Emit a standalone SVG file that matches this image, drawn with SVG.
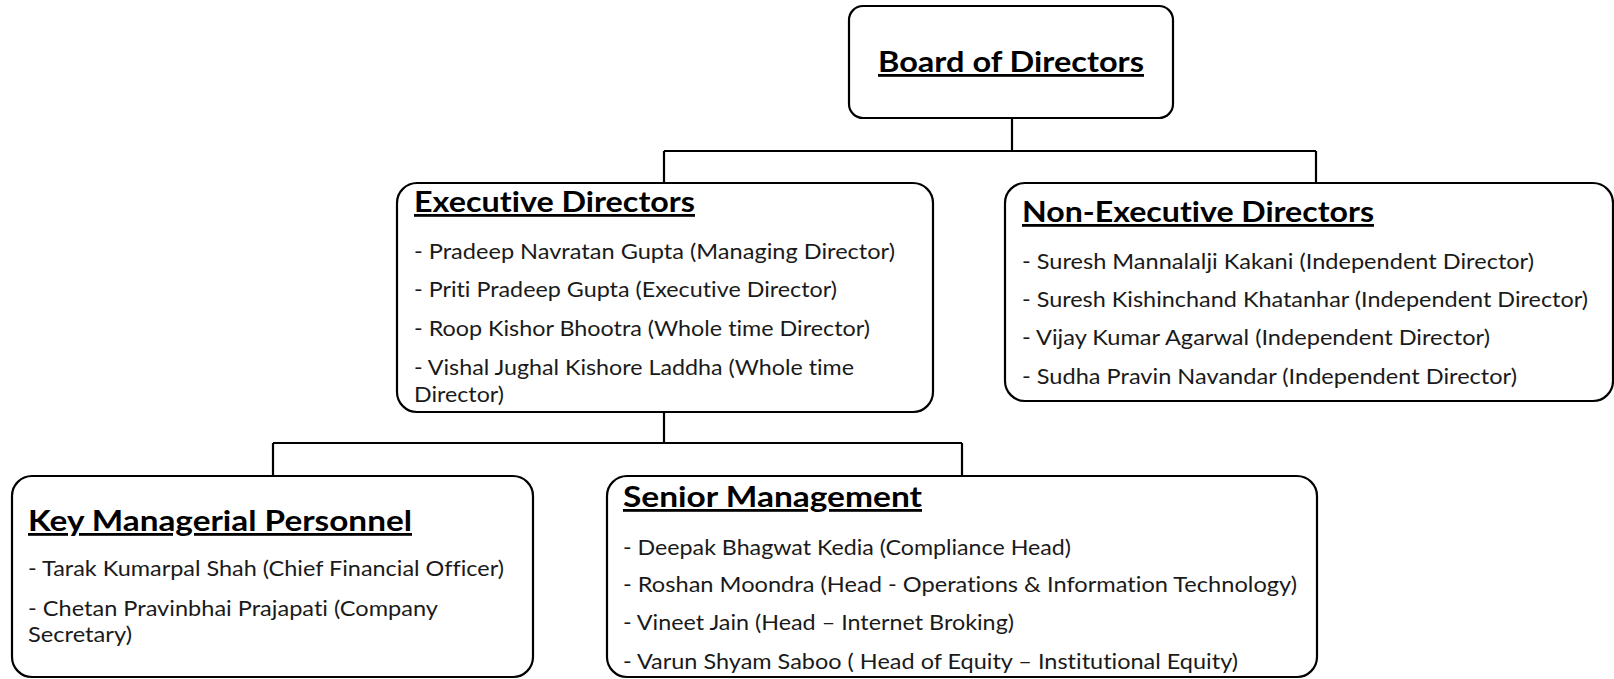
<svg xmlns="http://www.w3.org/2000/svg" width="1614" height="679" viewBox="0 0 1614 679">
<style>
.box{fill:#fff;stroke:#000;stroke-width:2.2}
.conn{fill:none;stroke:#000;stroke-width:2.2}
text{font-variant-ligatures:none;font-feature-settings:"liga" 0,"clig" 0}
.t{font-family:Lato,"Open Sans",sans-serif;font-weight:bold;font-size:28px;fill:#000;text-decoration:underline}
.b{font-family:Lato,"Open Sans",sans-serif;font-size:22px;fill:#1a1a1a}
</style>
<rect width="1614" height="679" fill="#fff"/>
<g id="connectors">
<path class="conn" d="M1012 118V151M664 151H1316M664 151V183M1316 151V183"/>
<path class="conn" d="M664 412V443M273 443H962M273 443V476M962 443V476"/>
</g>
<g id="board">
<rect class="box" x="849" y="6" width="324" height="112" rx="14"/>
<text class="t" x="878" y="72" textLength="266" lengthAdjust="spacingAndGlyphs">Board of Directors</text>
</g>
<g id="executive">
<rect class="box" x="397" y="183" width="536" height="229" rx="20"/>
<text class="t" x="414" y="212" textLength="281" lengthAdjust="spacingAndGlyphs">Executive Directors</text>
<text class="b" x="414" y="259" textLength="481" lengthAdjust="spacingAndGlyphs">- Pradeep Navratan Gupta (Managing Director)</text>
<text class="b" x="414" y="297" textLength="423" lengthAdjust="spacingAndGlyphs">- Priti Pradeep Gupta (Executive Director)</text>
<text class="b" x="414" y="336" textLength="456" lengthAdjust="spacingAndGlyphs">- Roop Kishor Bhootra (Whole time Director)</text>
<text class="b" x="414" y="375" textLength="440" lengthAdjust="spacingAndGlyphs">- Vishal Jughal Kishore Laddha (Whole time</text>
<text class="b" x="414" y="402" textLength="90" lengthAdjust="spacingAndGlyphs">Director)</text>
</g>
<g id="non-executive">
<rect class="box" x="1005" y="183" width="608" height="218" rx="20"/>
<text class="t" x="1022" y="222" textLength="352" lengthAdjust="spacingAndGlyphs">Non-Executive Directors</text>
<text class="b" x="1022" y="269" textLength="512" lengthAdjust="spacingAndGlyphs">- Suresh Mannalalji Kakani (Independent Director)</text>
<text class="b" x="1022" y="307" textLength="566" lengthAdjust="spacingAndGlyphs">- Suresh Kishinchand Khatanhar (Independent Director)</text>
<text class="b" x="1022" y="345" textLength="468" lengthAdjust="spacingAndGlyphs">- Vijay Kumar Agarwal (Independent Director)</text>
<text class="b" x="1022" y="384" textLength="495" lengthAdjust="spacingAndGlyphs">- Sudha Pravin Navandar (Independent Director)</text>
</g>
<g id="kmp">
<rect class="box" x="12" y="476" width="521" height="201" rx="20"/>
<text class="t" x="28" y="531" textLength="384" lengthAdjust="spacingAndGlyphs">Key Managerial Personnel</text>
<text class="b" x="28" y="576" textLength="476" lengthAdjust="spacingAndGlyphs">- Tarak Kumarpal Shah (Chief Financial Officer)</text>
<text class="b" x="28" y="616" textLength="410" lengthAdjust="spacingAndGlyphs">- Chetan Pravinbhai Prajapati (Company</text>
<text class="b" x="28" y="642" textLength="104" lengthAdjust="spacingAndGlyphs">Secretary)</text>
</g>
<g id="senior-management">
<rect class="box" x="607" y="476" width="710" height="201" rx="20"/>
<text class="t" x="623" y="507" textLength="299" lengthAdjust="spacingAndGlyphs">Senior Management</text>
<text class="b" x="623" y="555" textLength="448" lengthAdjust="spacingAndGlyphs">- Deepak Bhagwat Kedia (Compliance Head)</text>
<text class="b" x="623" y="592" textLength="674" lengthAdjust="spacingAndGlyphs">- Roshan Moondra (Head - Operations &amp; Information Technology)</text>
<text class="b" x="623" y="630" textLength="391" lengthAdjust="spacingAndGlyphs">- Vineet Jain (Head – Internet Broking)</text>
<text class="b" x="623" y="669" textLength="615" lengthAdjust="spacingAndGlyphs">- Varun Shyam Saboo ( Head of Equity – Institutional Equity)</text>
</g>
</svg>
